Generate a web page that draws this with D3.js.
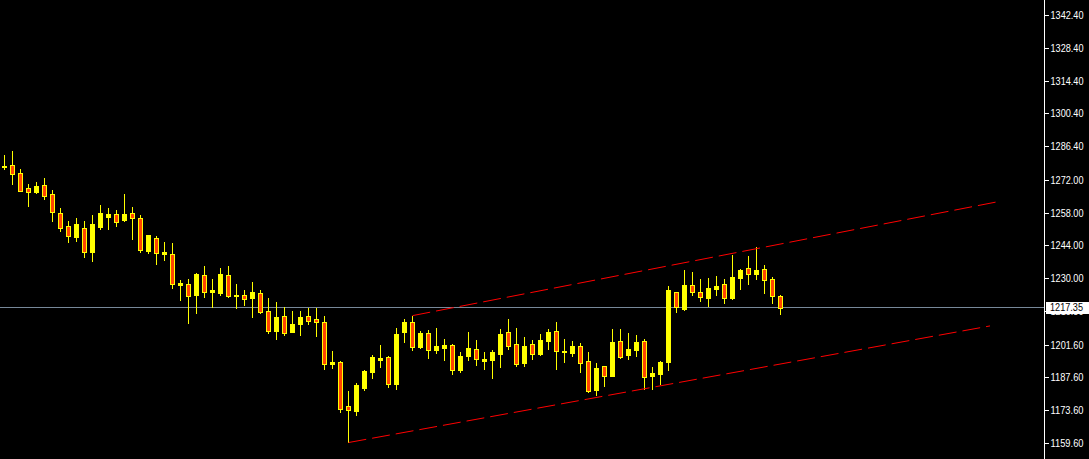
<!DOCTYPE html>
<html><head><meta charset="utf-8">
<script src="https://cdn.jsdelivr.net/npm/d3@7"></script>
<style>
html,body{margin:0;padding:0;background:#000;overflow:hidden}
svg{display:block}
</style></head>
<body>
<svg id="chart" width="1089" height="459"></svg>
<script>
// OHLC per bar (bar index = position)
const opens  = [1277.9,1278.3,1274.9,1268.5,1266.8,1269.8,1266.0,1257.8,1252.3,1247.7,1251.4,1241.3,1251.9,1256.1,1257.4,1254.8,1257.8,1255.7,1241.7,1247.2,1240.5,1240.3,1227.2,1227.5,1222.9,1231.4,1224.2,1223.7,1231.4,1222.4,1222.8,1221.7,1223.7,1216.0,1207.6,1213.9,1207.1,1210.6,1213.9,1212.6,1211.3,1193.5,1194.2,1175.4,1173.4,1183.1,1189.9,1195.1,1196.3,1184.8,1207.0,1211.3,1200.6,1206.6,1199.3,1200.2,1201.5,1190.8,1196.8,1199.8,1194.6,1195.1,1197.6,1207.0,1201.9,1193.9,1201.9,1197.7,1203.3,1207.4,1198.3,1198.2,1201.0,1194.6,1182.4,1192.5,1188.3,1203.2,1197.3,1199.5,1203.2,1188.3,1189.2,1194.3,1224.0,1217.0,1227.1,1224.1,1221.7,1225.4,1227.5,1221.7,1230.2,1234.3,1231.9,1233.9,1229.6,1222.4];
const highs  = [1282.6,1284.3,1276.6,1270.2,1271.1,1272.8,1267.7,1260.0,1254.4,1255.7,1254.4,1257.0,1261.3,1260.0,1259.1,1266.0,1260.4,1257.0,1248.4,1248.0,1245.5,1245.0,1229.2,1229.6,1232.2,1235.2,1229.6,1234.3,1235.2,1227.5,1225.0,1228.4,1225.0,1221.5,1219.8,1217.7,1216.0,1216.0,1217.3,1217.3,1213.9,1198.9,1194.6,1181.8,1185.2,1190.8,1197.2,1201.5,1196.8,1208.7,1212.6,1213.9,1207.4,1207.9,1208.7,1204.0,1201.9,1198.5,1207.0,1203.6,1198.5,1199.3,1208.3,1212.6,1208.7,1204.9,1203.6,1206.2,1208.3,1211.3,1204.0,1203.2,1202.3,1198.6,1193.8,1192.7,1208.3,1208.3,1206.6,1205.7,1204.0,1192.1,1194.6,1226.7,1224.0,1233.5,1232.6,1229.6,1230.1,1230.9,1229.6,1239.9,1233.9,1239.5,1243.3,1235.6,1230.5,1222.8];
const lows   = [1276.6,1270.3,1267.2,1261.0,1266.5,1263.9,1254.5,1250.3,1245.6,1246.0,1239.2,1237.5,1251.1,1251.1,1252.3,1254.4,1246.9,1241.3,1240.9,1236.2,1237.9,1225.7,1220.7,1211.0,1215.3,1222.1,1217.8,1222.9,1222.1,1217.4,1218.7,1213.5,1215.3,1206.7,1204.2,1205.9,1207.1,1205.9,1210.6,1205.4,1191.3,1191.8,1173.0,1160.2,1171.6,1182.2,1187.4,1192.1,1183.5,1182.7,1202.7,1199.3,1200.2,1195.9,1198.0,1195.1,1189.1,1189.9,1195.1,1192.9,1191.2,1187.4,1192.1,1199.8,1192.5,1192.6,1195.6,1197.3,1199.9,1191.3,1194.3,1196.9,1190.1,1181.5,1180.2,1184.1,1188.1,1196.0,1195.5,1196.9,1182.8,1182.8,1184.9,1190.9,1215.7,1216.5,1222.9,1220.4,1218.2,1222.9,1219.5,1221.2,1225.5,1227.6,1229.8,1223.8,1219.5,1214.8];
const closes = [1278.1,1274.4,1267.4,1266.9,1269.4,1265.2,1258.4,1251.6,1248.1,1253.1,1241.3,1253.1,1257.8,1257.4,1254.1,1257.4,1255.7,1242.2,1248.4,1240.9,1241.3,1227.4,1227.8,1222.5,1231.8,1224.2,1225.0,1231.8,1222.5,1222.9,1221.2,1224.1,1215.7,1207.6,1213.4,1206.7,1210.4,1213.4,1211.8,1211.4,1193.5,1194.2,1174.3,1173.7,1184.4,1190.4,1196.3,1195.9,1184.8,1206.2,1211.3,1200.6,1206.6,1199.3,1201.0,1201.5,1190.8,1196.8,1200.2,1195.5,1195.5,1198.5,1206.2,1201.0,1193.3,1201.0,1197.7,1203.6,1207.0,1199.0,1199.0,1201.0,1193.9,1181.9,1191.6,1188.3,1202.9,1196.5,1199.8,1202.9,1187.9,1189.5,1194.2,1225.0,1217.8,1227.1,1224.2,1222.1,1225.8,1226.7,1221.7,1230.5,1233.5,1231.9,1233.5,1229.3,1222.5,1217.35];

// Price axis labels (as shown)
const tickLabels = ["1342.40","1328.40","1314.40","1300.40","1286.40","1272.00","1258.00","1244.00","1230.00","1215.80","1201.60","1187.60","1173.60","1159.60"];
const lastPrice = 1217.35;

// Channel lines: [bar index, price]
const upperLine = [[51, 1214.0], [123.94, 1262.5]];
const lowerLine = [[43, 1159.8], [123.19, 1209.6]];

const svg = d3.select("#chart");
const W = 1089, H = 459;
svg.append("rect").attr("width", W).attr("height", H).attr("fill", "#000");

const x = d3.scaleLinear().domain([0, 130]).range([4.5, 1044.5]);
const y = d3.scaleLinear().domain([1159.6, 1342.4]).range([443, 15]);
const py = v => Math.round(y(v)) + 0.5;

const bars = d3.range(opens.length).map(i => ({i, o: opens[i], h: highs[i], l: lows[i], c: closes[i]}));

// bid line
svg.append("line")
  .attr("x1", 0).attr("x2", 1044.5)
  .attr("y1", Math.floor(y(lastPrice)) + 0.5).attr("y2", Math.floor(y(lastPrice)) + 0.5)
  .attr("stroke", "#778899").attr("stroke-width", 1);

const g = svg.append("g").attr("shape-rendering", "crispEdges");
// wicks
g.selectAll("line.wick").data(bars).enter().append("line")
  .attr("class", "wick")
  .attr("x1", d => x(d.i)).attr("x2", d => x(d.i))
  .attr("y1", d => py(d.h) - 0.5).attr("y2", d => py(d.l) + 0.5)
  .attr("stroke", "#ffff00").attr("stroke-width", 1);
// bodies
g.selectAll("rect.body").data(bars).enter().append("rect")
  .attr("class", "body")
  .attr("x", d => x(d.i) - 2)
  .attr("width", 4)
  .attr("y", d => py(Math.max(d.o, d.c)))
  .attr("height", d => Math.max(1, py(Math.min(d.o, d.c)) - py(Math.max(d.o, d.c))))
  .attr("fill", d => d.c >= d.o ? "#ffff00" : "#ff4500")
  .attr("stroke", "#ffff00").attr("stroke-width", 1);

// channel lines
const lineGen = d3.line().x(d => x(d[0])).y(d => y(d[1]));
[upperLine, lowerLine].forEach(pts => {
  svg.append("path").attr("d", lineGen(pts))
    .attr("fill", "none").attr("stroke", "#ff0000").attr("stroke-width", 1)
    .attr("stroke-dasharray", "18,6");
});

// right price axis
svg.append("line").attr("x1", 1044.5).attr("x2", 1044.5).attr("y1", 0).attr("y2", H)
  .attr("stroke", "#ffffff").attr("stroke-width", 1);
const tickVals = tickLabels.map(Number);
const axis = d3.axisRight(y).tickValues(tickVals)
  .tickFormat((d, i) => tickLabels[i]).tickSize(4).tickPadding(2).tickSizeOuter(0);
const ag = svg.append("g").attr("transform", "translate(1044.5,0)").call(axis);
ag.select(".domain").remove();
ag.selectAll(".tick line").attr("stroke", "#ffffff").attr("shape-rendering", "crispEdges");
ag.selectAll(".tick text").attr("fill", "#ffffff")
  .attr("font-family", "'Liberation Sans', Arial, sans-serif").attr("font-size", 11)
  .attr("textLength", 33).attr("lengthAdjust", "spacingAndGlyphs");

// last price box
const ly = y(lastPrice);
svg.append("rect").attr("x", 1046).attr("y", Math.round(ly) - 6).attr("width", 43).attr("height", 12)
  .attr("fill", "#ffffff");
svg.append("text").attr("x", 1050).attr("y", ly).attr("dy", "0.32em")
  .attr("fill", "#000").attr("font-family", "'Liberation Sans', Arial, sans-serif")
  .attr("font-size", 11).attr("textLength", 33).attr("lengthAdjust", "spacingAndGlyphs")
  .text(lastPrice.toFixed(2));
</script>
</body></html>
